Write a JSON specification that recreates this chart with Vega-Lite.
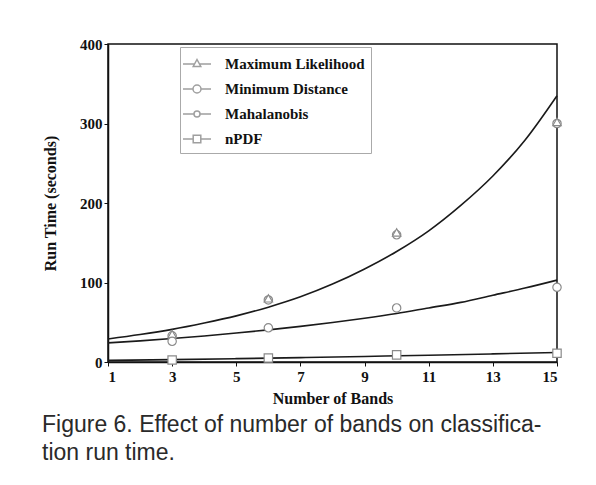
{
  "$schema": "https://vega.github.io/schema/vega-lite/v6.json",
  "width": 449,
  "height": 318,
  "autosize": {"type": "none"},
  "padding": {"left": 108, "top": 44, "right": 39, "bottom": 123},
  "background": "white",
  "config": {
    "view": {"stroke": "#111", "strokeWidth": 1.5},
    "font": "Liberation Serif"
  },
  "title": {
    "text": ["Figure 6. Effect of number of bands on classifica-", "tion run time."],
    "orient": "bottom",
    "anchor": "start",
    "frame": "group",
    "dx": -66,
    "offset": 8,
    "font": "Liberation Sans",
    "fontSize": 23,
    "fontWeight": "normal",
    "color": "#2a2a2a",
    "lineHeight": 28
  },
  "datasets": {
    "curves": [
      {"fit": "ML", "bands": 1, "time": 29}, {"fit": "ML", "bands": 2, "time": 34.5}, {"fit": "ML", "bands": 3, "time": 41},
      {"fit": "ML", "bands": 4, "time": 49}, {"fit": "ML", "bands": 5, "time": 58}, {"fit": "ML", "bands": 6, "time": 69},
      {"fit": "ML", "bands": 7, "time": 82}, {"fit": "ML", "bands": 8, "time": 98}, {"fit": "ML", "bands": 9, "time": 117},
      {"fit": "ML", "bands": 10, "time": 139}, {"fit": "ML", "bands": 11, "time": 165}, {"fit": "ML", "bands": 12, "time": 197},
      {"fit": "ML", "bands": 13, "time": 234}, {"fit": "ML", "bands": 14, "time": 279}, {"fit": "ML", "bands": 15, "time": 335},
      {"fit": "MD", "bands": 1, "time": 24}, {"fit": "MD", "bands": 2, "time": 26.6}, {"fit": "MD", "bands": 3, "time": 29.5},
      {"fit": "MD", "bands": 4, "time": 32.8}, {"fit": "MD", "bands": 5, "time": 36.4}, {"fit": "MD", "bands": 6, "time": 40.4},
      {"fit": "MD", "bands": 7, "time": 44.8}, {"fit": "MD", "bands": 8, "time": 49.7}, {"fit": "MD", "bands": 9, "time": 55},
      {"fit": "MD", "bands": 10, "time": 61}, {"fit": "MD", "bands": 11, "time": 68}, {"fit": "MD", "bands": 12, "time": 75},
      {"fit": "MD", "bands": 13, "time": 84}, {"fit": "MD", "bands": 14, "time": 93}, {"fit": "MD", "bands": 15, "time": 103},
      {"fit": "NP", "bands": 1, "time": 2}, {"fit": "NP", "bands": 3, "time": 3}, {"fit": "NP", "bands": 5, "time": 4.2},
      {"fit": "NP", "bands": 7, "time": 5.5}, {"fit": "NP", "bands": 9, "time": 7}, {"fit": "NP", "bands": 11, "time": 8.5},
      {"fit": "NP", "bands": 13, "time": 10.2}, {"fit": "NP", "bands": 15, "time": 12}
    ],
    "points": [
      {"method": "Mahalanobis", "bands": 3, "time": 33},
      {"method": "Mahalanobis", "bands": 6, "time": 78},
      {"method": "Mahalanobis", "bands": 10, "time": 160},
      {"method": "Mahalanobis", "bands": 15, "time": 300},
      {"method": "Maximum Likelihood", "bands": 3, "time": 35},
      {"method": "Maximum Likelihood", "bands": 6, "time": 80},
      {"method": "Maximum Likelihood", "bands": 10, "time": 163},
      {"method": "Maximum Likelihood", "bands": 15, "time": 302},
      {"method": "Minimum Distance", "bands": 3, "time": 26},
      {"method": "Minimum Distance", "bands": 6, "time": 43},
      {"method": "Minimum Distance", "bands": 10, "time": 68},
      {"method": "Minimum Distance", "bands": 15, "time": 94},
      {"method": "nPDF", "bands": 3, "time": 2.5},
      {"method": "nPDF", "bands": 6, "time": 5},
      {"method": "nPDF", "bands": 10, "time": 9},
      {"method": "nPDF", "bands": 15, "time": 11}
    ]
  },
  "encoding": {
    "x": {
      "field": "bands", "type": "quantitative",
      "scale": {"domain": [1, 15], "nice": false, "zero": false},
      "axis": {
        "title": "Number of Bands", "values": [1, 3, 5, 7, 9, 11, 13, 15],
        "grid": false, "domainColor": "#111", "domainWidth": 1.5,
        "tickColor": "#111", "tickSize": 4, "labelPadding": 3,
        "labelFont": "Liberation Serif", "labelFontSize": 15, "labelFontWeight": "bold", "labelColor": "#111",
        "titleFont": "Liberation Serif", "titleFontSize": 16, "titleFontWeight": "bold", "titleColor": "#111",
        "titlePadding": 6
      }
    },
    "y": {
      "field": "time", "type": "quantitative",
      "scale": {"domain": [0, 400], "nice": false},
      "axis": {
        "title": "Run Time (seconds)", "values": [0, 100, 200, 300, 400],
        "grid": false, "domainColor": "#111", "domainWidth": 1.5,
        "tickColor": "#111", "tickSize": 4, "labelPadding": 2,
        "labelFont": "Liberation Serif", "labelFontSize": 15, "labelFontWeight": "bold", "labelColor": "#111",
        "titleFont": "Liberation Serif", "titleFontSize": 16, "titleFontWeight": "bold", "titleColor": "#111",
        "titlePadding": 21
      }
    }
  },
  "layer": [
    {
      "data": {"name": "curves"},
      "mark": {"type": "line", "interpolate": "monotone", "color": "#1a1a1a", "strokeWidth": 1.6},
      "encoding": {"detail": {"field": "fit"}}
    },
    {
      "data": {"name": "points"},
      "mark": {"type": "point", "filled": false, "fill": "white", "fillOpacity": 1, "stroke": "#8a8a8a", "strokeWidth": 1.2, "size": 70, "opacity": 1},
      "encoding": {
        "shape": {
          "field": "method", "type": "nominal",
          "scale": {"domain": ["Maximum Likelihood", "Minimum Distance", "Mahalanobis", "nPDF"], "range": ["triangle-up", "circle", "circle", "square"]},
          "legend": null
        }
      }
    },
    {
      "data": {"name": "points"},
      "transform": [{"filter": "false"}],
      "mark": {"type": "point", "filled": false, "fill": "white", "stroke": "#777", "strokeWidth": 1},
      "encoding": {
        "shape": {
          "field": "method", "type": "nominal",
          "scale": {
            "domain": ["Maximum Likelihood", "Minimum Distance", "Mahalanobis", "nPDF"],
            "range": [
              "M-1.4,0H-0.25 M0.25,0H1.4 M0,-0.45 L0.38,0.25 L-0.38,0.25 Z",
              "M-1.4,0H-0.4 M0.4,0H1.4 M0.4,0 A0.4,0.4 0 1,1 -0.4,0 A0.4,0.4 0 1,1 0.4,0",
              "M-1.4,0H-0.3 M0.3,0H1.4 M0.3,0 A0.3,0.3 0 1,1 -0.3,0 A0.3,0.3 0 1,1 0.3,0",
              "M-1.4,0H-0.38 M0.38,0H1.4 M-0.38,-0.38H0.38V0.38H-0.38Z"
            ]
          },
          "legend": {
            "title": null,
            "orient": "none",
            "legendX": 72,
            "legendY": 3,
            "padding": 6,
            "fillColor": "white",
            "strokeColor": "#aaa",
            "symbolSize": 400,
            "rowPadding": 6,
            "labelOffset": 17,
            "labelFont": "Liberation Serif",
            "labelFontSize": 15,
            "labelFontWeight": "bold",
            "labelColor": "#111",
            "labelLimit": 300
          }
        }
      }
    }
  ],
  "resolve": {"scale": {"shape": "independent"}}
}
